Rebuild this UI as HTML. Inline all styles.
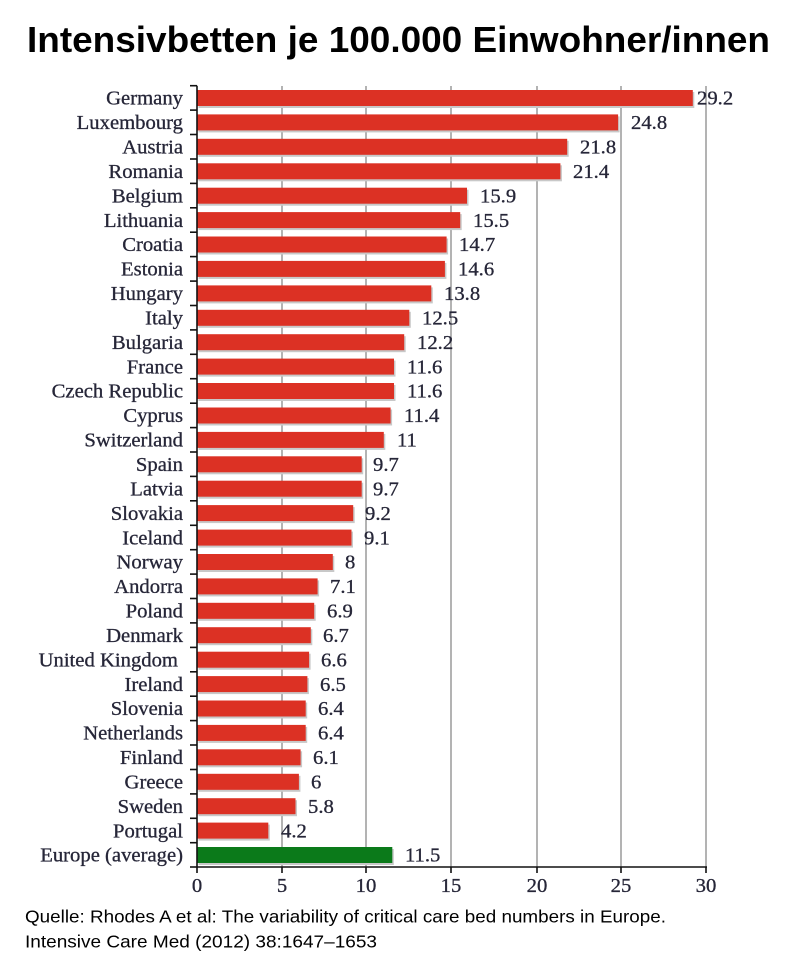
<!DOCTYPE html>
<html><head><meta charset="utf-8"><style>
html,body{margin:0;padding:0;background:#fff;}
svg{display:block;}
.lab{font-family:"Liberation Serif",serif;font-size:19.5px;fill:#262638;stroke:#262638;stroke-width:0.3px;}
</style></head><body>
<svg width="800" height="967" viewBox="0 0 800 967" xmlns="http://www.w3.org/2000/svg">
<text x="27" y="52" font-family="Liberation Sans, sans-serif" font-weight="bold" font-size="36" fill="#000" textLength="743" lengthAdjust="spacingAndGlyphs">Intensivbetten je 100.000 Einwohner/innen</text>
<g stroke="#9a9a9a" stroke-width="1.5">
<line x1="282" y1="86" x2="282" y2="867"/>
<line x1="366" y1="86" x2="366" y2="867"/>
<line x1="451" y1="86" x2="451" y2="867"/>
<line x1="537" y1="86" x2="537" y2="867"/>
<line x1="621" y1="86" x2="621" y2="867"/>
<line x1="706" y1="86" x2="706" y2="867"/>
</g>
<g stroke="#111" stroke-width="1.6">
<line x1="197" y1="867" x2="707" y2="867"/>
<line x1="197" y1="867" x2="197" y2="873"/>
<line x1="282" y1="867" x2="282" y2="873"/>
<line x1="366" y1="867" x2="366" y2="873"/>
<line x1="451" y1="867" x2="451" y2="873"/>
<line x1="537" y1="867" x2="537" y2="873"/>
<line x1="621" y1="867" x2="621" y2="873"/>
<line x1="706" y1="867" x2="706" y2="873"/>
<line x1="190" y1="85.7" x2="197" y2="85.7"/>
</g>
<g class="lab" text-anchor="middle">
<text transform="translate(197 892) scale(1.06 1)">0</text>
<text transform="translate(282 892) scale(1.06 1)">5</text>
<text transform="translate(366 892) scale(1.06 1)">10</text>
<text transform="translate(451 892) scale(1.06 1)">15</text>
<text transform="translate(537 892) scale(1.06 1)">20</text>
<text transform="translate(621 892) scale(1.06 1)">25</text>
<text transform="translate(706 892) scale(1.06 1)">30</text>
</g>
<text x="25" y="922.5" font-family="Liberation Sans, sans-serif" font-size="17.5" fill="#000" textLength="641" lengthAdjust="spacingAndGlyphs">Quelle: Rhodes A et al: The variability of critical care bed numbers in Europe.</text>
<text x="25" y="947.5" font-family="Liberation Sans, sans-serif" font-size="17.5" fill="#000" textLength="352" lengthAdjust="spacingAndGlyphs">Intensive Care Med (2012) 38:1647–1653</text>

<g>
<rect x="198.5" y="92" width="495.8" height="16" fill="#c8c8c8"/><rect x="197" y="90" width="495.8" height="16" fill="#dc3124"/>
<rect x="198.5" y="116.4" width="421.1" height="16" fill="#c8c8c8"/><rect x="197" y="114.4" width="421.1" height="16" fill="#dc3124"/>
<rect x="198.5" y="140.8" width="370.2" height="16" fill="#c8c8c8"/><rect x="197" y="138.8" width="370.2" height="16" fill="#dc3124"/>
<rect x="198.5" y="165.3" width="363.4" height="16" fill="#c8c8c8"/><rect x="197" y="163.3" width="363.4" height="16" fill="#dc3124"/>
<rect x="198.5" y="189.7" width="270.0" height="16" fill="#c8c8c8"/><rect x="197" y="187.7" width="270.0" height="16" fill="#dc3124"/>
<rect x="198.5" y="214.1" width="263.2" height="16" fill="#c8c8c8"/><rect x="197" y="212.1" width="263.2" height="16" fill="#dc3124"/>
<rect x="198.5" y="238.5" width="249.6" height="16" fill="#c8c8c8"/><rect x="197" y="236.5" width="249.6" height="16" fill="#dc3124"/>
<rect x="198.5" y="262.9" width="247.9" height="16" fill="#c8c8c8"/><rect x="197" y="260.9" width="247.9" height="16" fill="#dc3124"/>
<rect x="198.5" y="287.4" width="234.3" height="16" fill="#c8c8c8"/><rect x="197" y="285.4" width="234.3" height="16" fill="#dc3124"/>
<rect x="198.5" y="311.8" width="212.3" height="16" fill="#c8c8c8"/><rect x="197" y="309.8" width="212.3" height="16" fill="#dc3124"/>
<rect x="198.5" y="336.2" width="207.2" height="16" fill="#c8c8c8"/><rect x="197" y="334.2" width="207.2" height="16" fill="#dc3124"/>
<rect x="198.5" y="360.6" width="197.0" height="16" fill="#c8c8c8"/><rect x="197" y="358.6" width="197.0" height="16" fill="#dc3124"/>
<rect x="198.5" y="385.0" width="197.0" height="16" fill="#c8c8c8"/><rect x="197" y="383.0" width="197.0" height="16" fill="#dc3124"/>
<rect x="198.5" y="409.5" width="193.6" height="16" fill="#c8c8c8"/><rect x="197" y="407.5" width="193.6" height="16" fill="#dc3124"/>
<rect x="198.5" y="433.9" width="186.8" height="16" fill="#c8c8c8"/><rect x="197" y="431.9" width="186.8" height="16" fill="#dc3124"/>
<rect x="198.5" y="458.3" width="164.7" height="16" fill="#c8c8c8"/><rect x="197" y="456.3" width="164.7" height="16" fill="#dc3124"/>
<rect x="198.5" y="482.7" width="164.7" height="16" fill="#c8c8c8"/><rect x="197" y="480.7" width="164.7" height="16" fill="#dc3124"/>
<rect x="198.5" y="507.1" width="156.2" height="16" fill="#c8c8c8"/><rect x="197" y="505.1" width="156.2" height="16" fill="#dc3124"/>
<rect x="198.5" y="531.6" width="154.5" height="16" fill="#c8c8c8"/><rect x="197" y="529.6" width="154.5" height="16" fill="#dc3124"/>
<rect x="198.5" y="556.0" width="135.8" height="16" fill="#c8c8c8"/><rect x="197" y="554.0" width="135.8" height="16" fill="#dc3124"/>
<rect x="198.5" y="580.4" width="120.6" height="16" fill="#c8c8c8"/><rect x="197" y="578.4" width="120.6" height="16" fill="#dc3124"/>
<rect x="198.5" y="604.8" width="117.2" height="16" fill="#c8c8c8"/><rect x="197" y="602.8" width="117.2" height="16" fill="#dc3124"/>
<rect x="198.5" y="629.2" width="113.8" height="16" fill="#c8c8c8"/><rect x="197" y="627.2" width="113.8" height="16" fill="#dc3124"/>
<rect x="198.5" y="653.7" width="112.1" height="16" fill="#c8c8c8"/><rect x="197" y="651.7" width="112.1" height="16" fill="#dc3124"/>
<rect x="198.5" y="678.1" width="110.4" height="16" fill="#c8c8c8"/><rect x="197" y="676.1" width="110.4" height="16" fill="#dc3124"/>
<rect x="198.5" y="702.5" width="108.7" height="16" fill="#c8c8c8"/><rect x="197" y="700.5" width="108.7" height="16" fill="#dc3124"/>
<rect x="198.5" y="726.9" width="108.7" height="16" fill="#c8c8c8"/><rect x="197" y="724.9" width="108.7" height="16" fill="#dc3124"/>
<rect x="198.5" y="751.3" width="103.6" height="16" fill="#c8c8c8"/><rect x="197" y="749.3" width="103.6" height="16" fill="#dc3124"/>
<rect x="198.5" y="775.8" width="101.9" height="16" fill="#c8c8c8"/><rect x="197" y="773.8" width="101.9" height="16" fill="#dc3124"/>
<rect x="198.5" y="800.2" width="98.5" height="16" fill="#c8c8c8"/><rect x="197" y="798.2" width="98.5" height="16" fill="#dc3124"/>
<rect x="198.5" y="824.6" width="71.3" height="16" fill="#c8c8c8"/><rect x="197" y="822.6" width="71.3" height="16" fill="#dc3124"/>
<rect x="198.5" y="849.0" width="195.3" height="16" fill="#c8c8c8"/><rect x="197" y="847.0" width="195.3" height="16" fill="#0b7a1a"/>
</g>
<line x1="197" y1="85.7" x2="197" y2="867" stroke="#111" stroke-width="1.6"/>
<g stroke="#111" stroke-width="1.6">
<line x1="190" y1="110.1" x2="197" y2="110.1"/>
<line x1="190" y1="134.5" x2="197" y2="134.5"/>
<line x1="190" y1="159.0" x2="197" y2="159.0"/>
<line x1="190" y1="183.4" x2="197" y2="183.4"/>
<line x1="190" y1="207.8" x2="197" y2="207.8"/>
<line x1="190" y1="232.2" x2="197" y2="232.2"/>
<line x1="190" y1="256.6" x2="197" y2="256.6"/>
<line x1="190" y1="281.1" x2="197" y2="281.1"/>
<line x1="190" y1="305.5" x2="197" y2="305.5"/>
<line x1="190" y1="329.9" x2="197" y2="329.9"/>
<line x1="190" y1="354.3" x2="197" y2="354.3"/>
<line x1="190" y1="378.7" x2="197" y2="378.7"/>
<line x1="190" y1="403.2" x2="197" y2="403.2"/>
<line x1="190" y1="427.6" x2="197" y2="427.6"/>
<line x1="190" y1="452.0" x2="197" y2="452.0"/>
<line x1="190" y1="476.4" x2="197" y2="476.4"/>
<line x1="190" y1="500.8" x2="197" y2="500.8"/>
<line x1="190" y1="525.3" x2="197" y2="525.3"/>
<line x1="190" y1="549.7" x2="197" y2="549.7"/>
<line x1="190" y1="574.1" x2="197" y2="574.1"/>
<line x1="190" y1="598.5" x2="197" y2="598.5"/>
<line x1="190" y1="622.9" x2="197" y2="622.9"/>
<line x1="190" y1="647.4" x2="197" y2="647.4"/>
<line x1="190" y1="671.8" x2="197" y2="671.8"/>
<line x1="190" y1="696.2" x2="197" y2="696.2"/>
<line x1="190" y1="720.6" x2="197" y2="720.6"/>
<line x1="190" y1="745.0" x2="197" y2="745.0"/>
<line x1="190" y1="769.5" x2="197" y2="769.5"/>
<line x1="190" y1="793.9" x2="197" y2="793.9"/>
<line x1="190" y1="818.3" x2="197" y2="818.3"/>
<line x1="190" y1="842.7" x2="197" y2="842.7"/>
<line x1="190" y1="867" x2="197" y2="867"/>
</g>
<g class="lab" text-anchor="end">
<text transform="translate(183 104.7) scale(1.06 1)">Germany</text>
<text transform="translate(183 129.1) scale(1.06 1)">Luxembourg</text>
<text transform="translate(183 153.5) scale(1.06 1)">Austria</text>
<text transform="translate(183 178.0) scale(1.06 1)">Romania</text>
<text transform="translate(183 202.4) scale(1.06 1)">Belgium</text>
<text transform="translate(183 226.8) scale(1.06 1)">Lithuania</text>
<text transform="translate(183 251.2) scale(1.06 1)">Croatia</text>
<text transform="translate(183 275.6) scale(1.06 1)">Estonia</text>
<text transform="translate(183 300.1) scale(1.06 1)">Hungary</text>
<text transform="translate(183 324.5) scale(1.06 1)">Italy</text>
<text transform="translate(183 348.9) scale(1.06 1)">Bulgaria</text>
<text transform="translate(183 373.3) scale(1.06 1)">France</text>
<text transform="translate(183 397.7) scale(1.06 1)">Czech Republic</text>
<text transform="translate(183 422.2) scale(1.06 1)">Cyprus</text>
<text transform="translate(183 446.6) scale(1.06 1)">Switzerland</text>
<text transform="translate(183 471.0) scale(1.06 1)">Spain</text>
<text transform="translate(183 495.4) scale(1.06 1)">Latvia</text>
<text transform="translate(183 519.8) scale(1.06 1)">Slovakia</text>
<text transform="translate(183 544.3) scale(1.06 1)">Iceland</text>
<text transform="translate(183 568.7) scale(1.06 1)">Norway</text>
<text transform="translate(183 593.1) scale(1.06 1)">Andorra</text>
<text transform="translate(183 617.5) scale(1.06 1)">Poland</text>
<text transform="translate(183 641.9) scale(1.06 1)">Denmark</text>
<text transform="translate(178 666.4) scale(1.06 1)">United Kingdom</text>
<text transform="translate(183 690.8) scale(1.06 1)">Ireland</text>
<text transform="translate(183 715.2) scale(1.06 1)">Slovenia</text>
<text transform="translate(183 739.6) scale(1.06 1)">Netherlands</text>
<text transform="translate(183 764.0) scale(1.06 1)">Finland</text>
<text transform="translate(183 788.5) scale(1.06 1)">Greece</text>
<text transform="translate(183 812.9) scale(1.06 1)">Sweden</text>
<text transform="translate(183 837.3) scale(1.06 1)">Portugal</text>
<text transform="translate(183 861.7) scale(1.06 1)">Europe (average)</text>
</g>
<g class="lab">
<text transform="translate(697 104.7) scale(1.06 1)">29.2</text>
<text transform="translate(631 129.1) scale(1.06 1)">24.8</text>
<text transform="translate(580 153.5) scale(1.06 1)">21.8</text>
<text transform="translate(573 178.0) scale(1.06 1)">21.4</text>
<text transform="translate(480 202.4) scale(1.06 1)">15.9</text>
<text transform="translate(473 226.8) scale(1.06 1)">15.5</text>
<text transform="translate(459 251.2) scale(1.06 1)">14.7</text>
<text transform="translate(458 275.6) scale(1.06 1)">14.6</text>
<text transform="translate(444 300.1) scale(1.06 1)">13.8</text>
<text transform="translate(422 324.5) scale(1.06 1)">12.5</text>
<text transform="translate(417 348.9) scale(1.06 1)">12.2</text>
<text transform="translate(407 373.3) scale(1.06 1)">11.6</text>
<text transform="translate(407 397.7) scale(1.06 1)">11.6</text>
<text transform="translate(404 422.2) scale(1.06 1)">11.4</text>
<text transform="translate(397 446.6) scale(1.06 1)">11</text>
<text transform="translate(373 471.0) scale(1.06 1)">9.7</text>
<text transform="translate(373 495.4) scale(1.06 1)">9.7</text>
<text transform="translate(365 519.8) scale(1.06 1)">9.2</text>
<text transform="translate(364 544.3) scale(1.06 1)">9.1</text>
<text transform="translate(345 568.7) scale(1.06 1)">8</text>
<text transform="translate(330 593.1) scale(1.06 1)">7.1</text>
<text transform="translate(327 617.5) scale(1.06 1)">6.9</text>
<text transform="translate(323 641.9) scale(1.06 1)">6.7</text>
<text transform="translate(321 666.4) scale(1.06 1)">6.6</text>
<text transform="translate(320 690.8) scale(1.06 1)">6.5</text>
<text transform="translate(318 715.2) scale(1.06 1)">6.4</text>
<text transform="translate(318 739.6) scale(1.06 1)">6.4</text>
<text transform="translate(313 764.0) scale(1.06 1)">6.1</text>
<text transform="translate(311 788.5) scale(1.06 1)">6</text>
<text transform="translate(308 812.9) scale(1.06 1)">5.8</text>
<text transform="translate(281 837.3) scale(1.06 1)">4.2</text>
<text transform="translate(405 861.7) scale(1.06 1)">11.5</text>
</g>
</svg>
</body></html>
